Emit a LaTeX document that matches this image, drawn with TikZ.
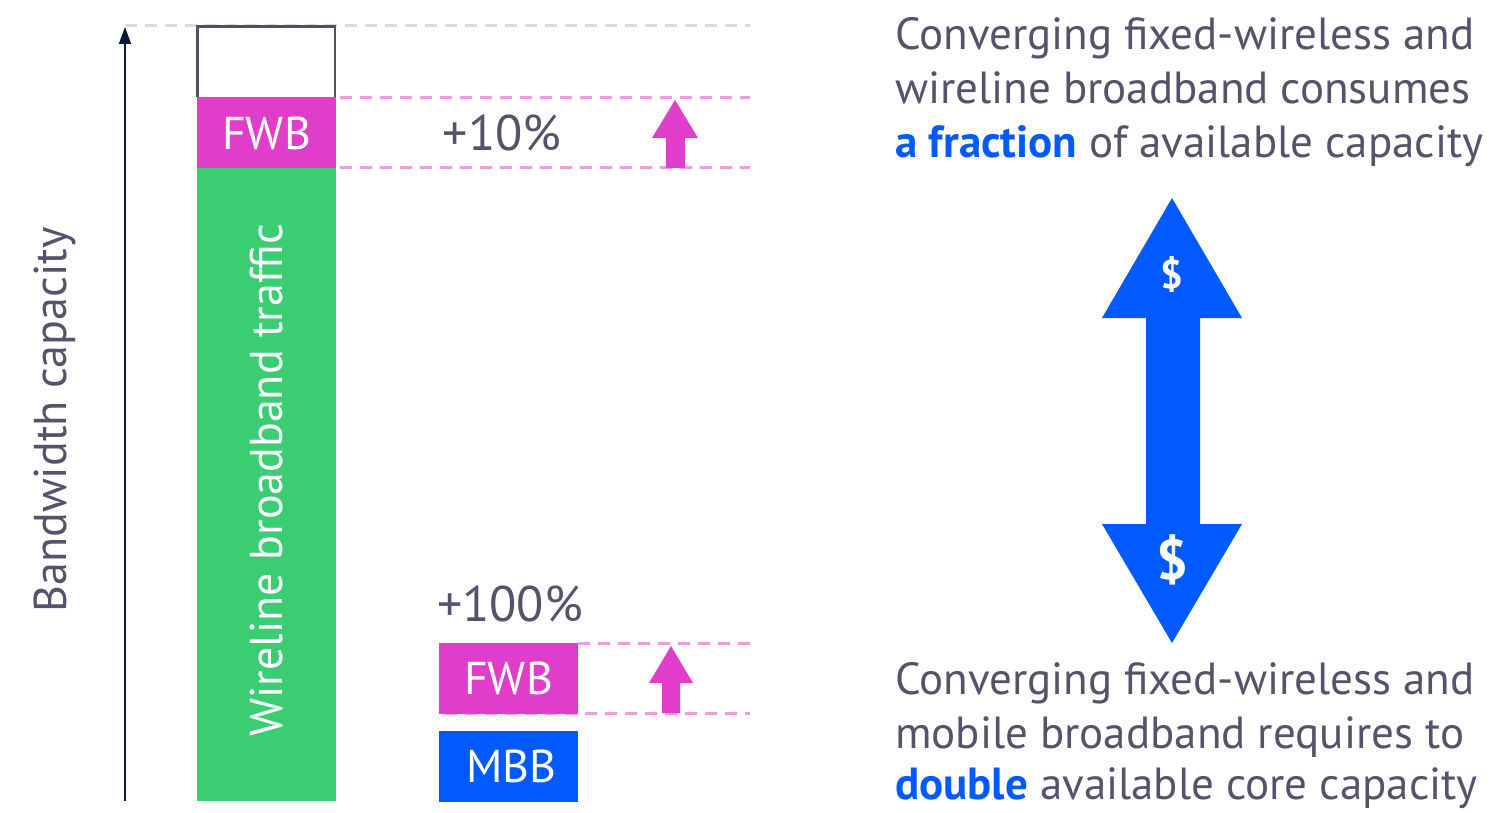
\documentclass[tikz,border=0pt]{standalone}
\usepackage{fontspec}
\setmainfont{PT Sans}
\usetikzlibrary{arrows.meta}
\definecolor{txtgray}{HTML}{55526A}
\definecolor{magen}{HTML}{E03DCB}
\definecolor{grn}{HTML}{3ACD72}
\definecolor{nblue}{HTML}{005AFF}
\definecolor{pinkdash}{HTML}{EE9CE2}
\definecolor{graydash}{HTML}{DADAE2}
\definecolor{navy}{HTML}{0A1A3A}
\definecolor{boxgray}{HTML}{505064}
\tikzset{
  bar/.style={draw=none, inner sep=0pt, minimum width=139pt, text=white},
  pdash/.style={draw=pinkdash, line width=3pt, dash pattern=on 12pt off 8pt},
  gdash/.style={draw=graydash, line width=3pt, dash pattern=on 12pt off 8pt},
  rtext/.style={anchor=base west, inner sep=0pt, text=txtgray, font=\fontsize{45}{50}\selectfont},
  pct/.style={inner sep=0pt, text=txtgray, font=\fontsize{50}{50}\selectfont},
  lbl/.style={font=\fontsize{46}{50}\selectfont},
  vlbl/.style={rotate=90, inner sep=0pt, font=\fontsize{46}{50}\selectfont}
}
\begin{document}
\begin{tikzpicture}[x=1pt,y=-1pt]
\useasboundingbox (0,0) rectangle (1492,813);
% dashed guide lines
\draw[gdash] (125,26) -- (750,26);
\draw[pdash] (340,98) -- (750,98);
\draw[pdash] (340,168) -- (750,168);
\draw[pdash] (578,643) -- (750,643);
\draw[pdash] (445,713) -- (750,713);
% axis
\coordinate (axisbot) at (125,801);
\coordinate (axistop) at (125,27);
\draw[navy, line width=2pt, -{Triangle[length=17pt,width=12pt]}] (axisbot) -- (axistop);
\node[vlbl, text=txtgray] (bwlabel) at (55,420) {Bandwidth capacity};
% left stacked bar
\fill[grn] (197,168) rectangle (336,801);
\node[bar, minimum height=71pt, fill=magen, lbl] (fwb1) at (266.5,133) {FWB};
\draw[boxgray, line width=2.5pt] (197.5,97) |- (335,26.5) -- (335,97);
\node[vlbl, text=white] (wbt) at (266,480) {Wireline broadband traffic};
% +10%
\node[pct] (p10) at (502,133) {+10\%};
\fill[magen] (666,168) -- (666,138) -- (652,138) -- (675,100) -- (698,138) -- (685,138) -- (685,168) -- cycle;
% lower bars
\node[pct] (p100) at (510,604) {+100\%};
\node[bar, minimum height=71pt, fill=magen, lbl] (fwb2) at (508.5,678) {FWB};
\node[bar, minimum height=71pt, fill=nblue, lbl] (mbb) at (508.5,766) {\hspace{6pt}MBB};
\fill[magen] (662,713) -- (662,683) -- (649,683) -- (671,646) -- (693,683) -- (680,683) -- (680,713) -- cycle;
% double arrow
\fill[nblue] (1172,198) -- (1242,318) -- (1200,318) -- (1200,524) -- (1242,524) -- (1172,643) -- (1102,524) -- (1146,524) -- (1146,318) -- (1102,318) -- cycle;
\node[text=white, font=\bfseries\fontsize{40}{40}\selectfont, inner sep=0pt] (d1) at (1172,275) {\$};
\node[text=white, font=\bfseries\fontsize{56}{56}\selectfont, inner sep=0pt] (d2) at (1172,560) {\$};
% right texts
\node[rtext] (t1) at (895,50) {Converging fixed-wireless and};
\node[rtext] (t2) at (895,104) {wireline broadband consumes};
\node[rtext] (t3) at (895,158) {\textcolor{nblue}{\bfseries a fraction} of available capacity};
\node[rtext] (b1) at (895,694) {Converging fixed-wireless and};
\node[rtext] (b2) at (895,748) {mobile broadband requires to};
\node[rtext] (b3) at (895,799) {\textcolor{nblue}{\bfseries double} available core capacity};
\end{tikzpicture}
\end{document}
